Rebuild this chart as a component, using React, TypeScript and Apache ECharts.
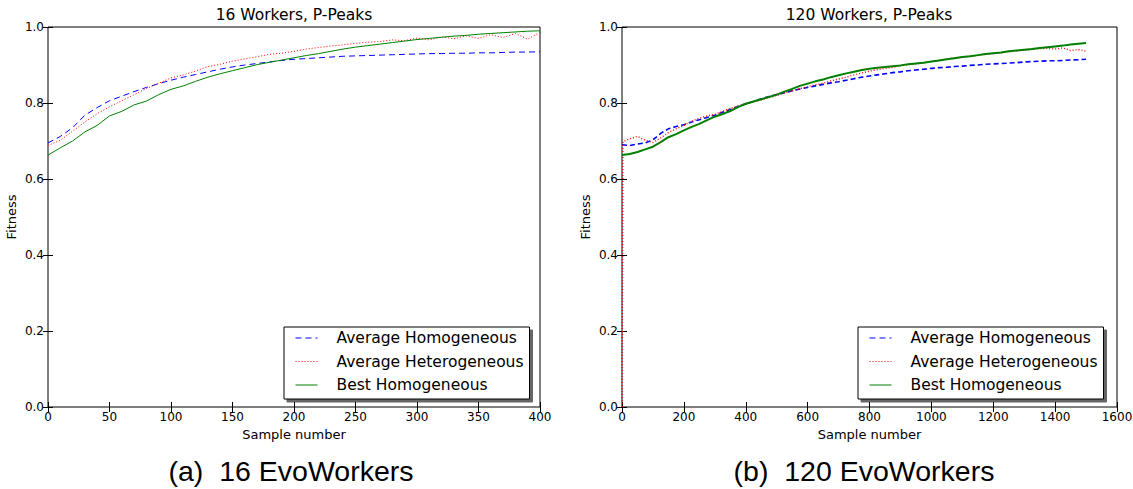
import React, { useEffect, useRef } from "react";
import * as echarts from "echarts";

// ---------- Data ----------
const samples16 = [0, 10, 20, 30, 40, 50, 60, 70, 80, 90, 100, 110, 120, 130, 140, 150, 160, 170, 180, 190, 200, 210, 220, 230, 240, 250, 260, 270, 280, 290, 300, 310, 320, 330, 340, 350, 360, 370, 380, 390, 400];
const avgHomo16 = [0.695, 0.712, 0.735, 0.768, 0.788, 0.806, 0.818, 0.830, 0.841, 0.851, 0.860, 0.868, 0.875, 0.882, 0.889, 0.895, 0.900, 0.904, 0.908, 0.912, 0.915, 0.917, 0.919, 0.921, 0.923, 0.924, 0.925, 0.926, 0.927, 0.928, 0.929, 0.930, 0.930, 0.931, 0.931, 0.932, 0.932, 0.933, 0.934, 0.934, 0.935];
const avgHetero16 = [0.688, 0.702, 0.726, 0.750, 0.772, 0.790, 0.806, 0.822, 0.838, 0.852, 0.866, 0.874, 0.884, 0.896, 0.902, 0.910, 0.916, 0.922, 0.928, 0.931, 0.936, 0.942, 0.946, 0.950, 0.953, 0.957, 0.960, 0.962, 0.966, 0.964, 0.971, 0.966, 0.974, 0.969, 0.977, 0.970, 0.980, 0.972, 0.983, 0.968, 0.986];
const bestHomo16 = [0.663, 0.682, 0.700, 0.724, 0.741, 0.766, 0.778, 0.795, 0.805, 0.822, 0.836, 0.845, 0.857, 0.868, 0.877, 0.885, 0.893, 0.901, 0.907, 0.913, 0.919, 0.925, 0.930, 0.936, 0.942, 0.947, 0.951, 0.955, 0.959, 0.963, 0.967, 0.970, 0.973, 0.976, 0.978, 0.981, 0.983, 0.985, 0.987, 0.989, 0.990];

const samples120 = [0, 25, 50, 75, 100, 125, 150, 175, 200, 225, 250, 275, 300, 325, 350, 375, 400, 425, 450, 475, 500, 525, 550, 575, 600, 625, 650, 675, 700, 725, 750, 775, 800, 825, 850, 875, 900, 925, 950, 975, 1000, 1025, 1050, 1075, 1100, 1125, 1150, 1175, 1200, 1225, 1250, 1275, 1300, 1325, 1350, 1375, 1400, 1425, 1450, 1475, 1500];
const avgHomo120 = [0.690, 0.688, 0.692, 0.695, 0.703, 0.720, 0.732, 0.738, 0.743, 0.750, 0.756, 0.762, 0.768, 0.776, 0.783, 0.791, 0.798, 0.804, 0.811, 0.817, 0.822, 0.827, 0.832, 0.837, 0.841, 0.845, 0.849, 0.853, 0.856, 0.860, 0.864, 0.868, 0.871, 0.874, 0.877, 0.880, 0.882, 0.885, 0.887, 0.889, 0.891, 0.893, 0.894, 0.896, 0.897, 0.899, 0.900, 0.902, 0.903, 0.904, 0.905, 0.906, 0.908, 0.909, 0.910, 0.911, 0.911, 0.912, 0.913, 0.914, 0.915];
const bestHomo120 = [0.663, 0.666, 0.671, 0.678, 0.685, 0.697, 0.710, 0.718, 0.728, 0.737, 0.745, 0.755, 0.764, 0.771, 0.779, 0.789, 0.798, 0.804, 0.810, 0.816, 0.822, 0.830, 0.837, 0.845, 0.851, 0.857, 0.862, 0.868, 0.873, 0.878, 0.882, 0.887, 0.890, 0.893, 0.895, 0.897, 0.899, 0.902, 0.904, 0.906, 0.909, 0.912, 0.915, 0.918, 0.921, 0.923, 0.926, 0.929, 0.931, 0.933, 0.936, 0.938, 0.940, 0.942, 0.945, 0.947, 0.949, 0.951, 0.954, 0.956, 0.958];
const heteroSamples120 = [0, 3, 25, 50, 75, 100, 125, 150, 175, 200, 225, 250, 275, 300, 325, 350, 375, 400, 425, 450, 475, 500, 525, 550, 575, 600, 625, 650, 675, 700, 725, 750, 775, 800, 825, 850, 875, 900, 925, 950, 975, 1000, 1025, 1050, 1075, 1100, 1125, 1150, 1175, 1200, 1225, 1250, 1275, 1300, 1325, 1350, 1375, 1400, 1425, 1450, 1475, 1500];
const avgHetero120 = [0.0, 0.698, 0.706, 0.712, 0.702, 0.696, 0.708, 0.722, 0.732, 0.741, 0.752, 0.760, 0.766, 0.770, 0.778, 0.786, 0.792, 0.797, 0.803, 0.808, 0.814, 0.820, 0.826, 0.832, 0.838, 0.843, 0.848, 0.852, 0.858, 0.863, 0.868, 0.874, 0.879, 0.884, 0.888, 0.891, 0.894, 0.898, 0.901, 0.903, 0.906, 0.909, 0.912, 0.916, 0.919, 0.921, 0.923, 0.925, 0.928, 0.930, 0.932, 0.935, 0.937, 0.939, 0.941, 0.943, 0.944, 0.942, 0.945, 0.938, 0.941, 0.936];

const seriesNames = ["Average Homogeneous", "Average Heterogeneous", "Best Homogeneous"];
const panelTitles = ["16 Workers, P-Peaks", "120 Workers, P-Peaks"];
const captions = ["(a)\u00a0 16 EvoWorkers", "(b)\u00a0 120 EvoWorkers"];
const xMax = [400, 1600];
const xInterval = [50, 200];

const FONT = "DejaVu Sans";

function pairs(xs: number[], ys: number[]) {
  return xs.map((x, i) => [x, ys[i]]);
}

export default function App() {
  const ref = useRef<HTMLDivElement>(null);
  useEffect(() => {
    if (!ref.current) return;
    const chart = echarts.init(ref.current, undefined, { renderer: "svg" });
    const grids = [
      { left: 48, top: 27, width: 492, height: 380 },
      { left: 622, top: 27, width: 495, height: 380 },
    ];
    const xAxes: any[] = [];
    const yAxes: any[] = [];
    grids.forEach((g, gi) => {
      const tick = { show: true, inside: true, length: 5, lineStyle: { color: "#000", width: 1 } };
      xAxes.push({
        gridIndex: gi, type: "value", position: "bottom", min: 0, max: xMax[gi], interval: xInterval[gi],
        axisLine: { show: false }, axisTick: tick, splitLine: { show: false },
        axisLabel: { color: "#000", fontSize: 12, fontFamily: FONT, margin: 4, formatter: (v: number) => String(v) },
        name: "Sample number", nameLocation: "middle", nameGap: 19,
        nameTextStyle: { color: "#000", fontSize: 13, fontFamily: FONT },
      });
      xAxes.push({
        gridIndex: gi, type: "value", position: "top", min: 0, max: xMax[gi], interval: xInterval[gi],
        axisLine: { show: false }, axisTick: tick, splitLine: { show: false }, axisLabel: { show: false },
      });
      yAxes.push({
        gridIndex: gi, type: "value", position: "left", min: 0, max: 1, interval: 0.2,
        axisLine: { show: false }, axisTick: tick, splitLine: { show: false },
        axisLabel: { color: "#000", fontSize: 12, fontFamily: FONT, margin: 4, formatter: (v: number) => v.toFixed(1) },
        name: "Fitness", nameLocation: "middle", nameGap: 30, nameRotate: 90,
        nameTextStyle: { color: "#000", fontSize: 13, fontFamily: FONT },
      });
      yAxes.push({
        gridIndex: gi, type: "value", position: "right", min: 0, max: 1, interval: 0.2,
        axisLine: { show: false }, axisTick: tick, splitLine: { show: false }, axisLabel: { show: false },
      });
    });

    const mk = (name: string, data: number[][], gi: number, color: string, type: any, width: number) => ({
      name, type: "line", xAxisIndex: gi * 2, yAxisIndex: gi * 2, data, symbol: "none",
      lineStyle: { color, type, width }, itemStyle: { color }, silent: true,
    });

    const series = [
      mk(seriesNames[0], pairs(samples16, avgHomo16), 0, "#0000ff", [6, 4], 1),
      mk(seriesNames[1], pairs(samples16, avgHetero16), 0, "#ff0000", [1, 2], 1),
      mk(seriesNames[2], pairs(samples16, bestHomo16), 0, "#008000", "solid", 1),
      mk(seriesNames[0], pairs(samples120, avgHomo120), 1, "#0000ff", [5, 3], 1.6),
      mk(seriesNames[1], pairs(heteroSamples120, avgHetero120), 1, "#ff0000", [1, 2], 1.4),
      mk(seriesNames[2], pairs(samples120, bestHomo120), 1, "#008000", "solid", 2),
    ];

    const legendBase = {
      data: seriesNames, orient: "vertical", top: 327, itemWidth: 22, itemHeight: 12, itemGap: 7.5,
      borderColor: "#000", borderWidth: 1, borderRadius: 0, backgroundColor: "#fff",
      padding: [3, 6, 6, 11], selectedMode: false,
      itemStyle: { opacity: 0 },
      lineStyle: { width: 1 },
      shadowColor: "rgba(0,0,0,0.6)", shadowBlur: 0, shadowOffsetX: 3, shadowOffsetY: 3,
      textStyle: { color: "#000", fontSize: 15.5, fontFamily: FONT, padding: [0, 0, 0, 14] },
    };

    chart.setOption({
      animation: false,
      backgroundColor: "#fff",
      grid: grids.map((g) => ({ ...g, show: true, borderColor: "#000", borderWidth: 1, backgroundColor: "transparent", outerBoundsMode: "none" })),
      xAxis: xAxes,
      yAxis: yAxes,
      series,
      legend: [
        { ...legendBase, left: 284 },
        { ...legendBase, left: 858 },
      ],
      graphic: [
        { type: "text", x: 294, y: 15, style: { text: panelTitles[0], fontSize: 15.5, fontFamily: FONT, fill: "#000", align: "center", verticalAlign: "middle" } },
        { type: "text", x: 869, y: 15, style: { text: panelTitles[1], fontSize: 15.5, fontFamily: FONT, fill: "#000", align: "center", verticalAlign: "middle" } },
        { type: "text", x: 291, y: 471, style: { text: captions[0], fontSize: 28.5, fontFamily: "Liberation Sans", fill: "#000", align: "center", verticalAlign: "middle" } },
        { type: "text", x: 864, y: 471, style: { text: captions[1], fontSize: 28.5, fontFamily: "Liberation Sans", fill: "#000", align: "center", verticalAlign: "middle" } },
      ],
    });
    return () => chart.dispose();
  }, []);
  return <div ref={ref} style={{ position: "absolute", left: 0, top: 0, width: 1133, height: 489 }} />;
}
